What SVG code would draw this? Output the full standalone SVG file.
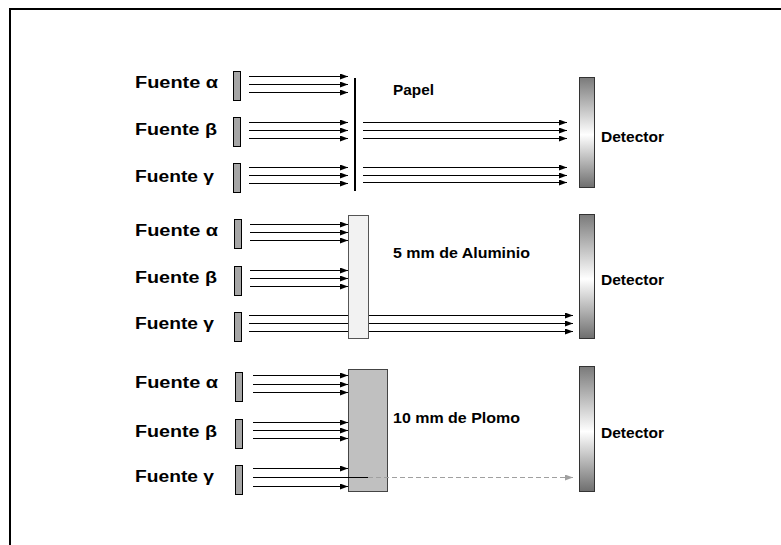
<svg xmlns="http://www.w3.org/2000/svg" width="781" height="545" viewBox="0 0 781 545">
<defs>
<marker id="ah" viewBox="0 0 8 6" refX="8" refY="3" markerWidth="8" markerHeight="6" markerUnits="userSpaceOnUse" orient="auto">
<path d="M0,0 L8,3 L0,6 Z" fill="#000"/>
</marker>
<marker id="ahg" viewBox="0 0 8 6" refX="8" refY="3" markerWidth="8" markerHeight="6" markerUnits="userSpaceOnUse" orient="auto">
<path d="M0,0 L8,3 L0,6 Z" fill="#a0a0a0"/>
</marker>
<linearGradient id="det" x1="0" y1="0" x2="0" y2="1">
<stop offset="0" stop-color="#7a7a7a"/>
<stop offset="0.52" stop-color="#ffffff"/>
<stop offset="1" stop-color="#6e6e6e"/>
</linearGradient>
</defs>
<style>
.lab{font-family:"Liberation Sans",Arial,sans-serif;font-weight:bold;font-size:16px;fill:#000}
.sm{font-family:"Liberation Sans",Arial,sans-serif;font-weight:bold;font-size:14.5px;fill:#000}
.src{fill:#a6a6a6;stroke:#000;stroke-width:1}
.det{fill:url(#det);stroke:#333;stroke-width:1}
.ray{stroke:#000;stroke-width:1;fill:none;marker-end:url(#ah)}
.ln{stroke:#000;stroke-width:1;fill:none}
</style>
<rect width="781" height="545" fill="#fff"/>
<path d="M10,545 V9 H781" fill="none" stroke="#000" stroke-width="2"/>

<g id="sources">
<g id="src-a1"><rect class="src" x="233.5" y="71.5" width="7" height="29"/><text class="lab" x="135" y="88" textLength="83" lengthAdjust="spacingAndGlyphs">Fuente α</text></g>
<g id="src-b1"><rect class="src" x="233.5" y="117.5" width="7" height="29"/><text class="lab" x="135" y="135" textLength="82" lengthAdjust="spacingAndGlyphs">Fuente β</text></g>
<g id="src-g1"><rect class="src" x="233.5" y="163.5" width="7" height="29"/><text class="lab" x="135" y="182" textLength="79" lengthAdjust="spacingAndGlyphs">Fuente γ</text></g>
<g id="src-a2"><rect class="src" x="234.5" y="219.5" width="7" height="29"/><text class="lab" x="135" y="236" textLength="83" lengthAdjust="spacingAndGlyphs">Fuente α</text></g>
<g id="src-b2"><rect class="src" x="234.5" y="266.5" width="7" height="29"/><text class="lab" x="135" y="283" textLength="82" lengthAdjust="spacingAndGlyphs">Fuente β</text></g>
<g id="src-g2"><rect class="src" x="234.5" y="312.5" width="7" height="29"/><text class="lab" x="135" y="329" textLength="79" lengthAdjust="spacingAndGlyphs">Fuente γ</text></g>
<g id="src-a3"><rect class="src" x="235.5" y="372.5" width="7" height="29"/><text class="lab" x="135" y="388" textLength="83" lengthAdjust="spacingAndGlyphs">Fuente α</text></g>
<g id="src-b3"><rect class="src" x="235.5" y="419.5" width="7" height="29"/><text class="lab" x="135" y="437" textLength="82" lengthAdjust="spacingAndGlyphs">Fuente β</text></g>
<g id="src-g3"><rect class="src" x="235.5" y="465.5" width="7" height="29"/><text class="lab" x="135" y="482" textLength="79" lengthAdjust="spacingAndGlyphs">Fuente γ</text></g>
</g>

<g id="connectors">
<path class="ray" d="M249,76.5 H348"/>
<path class="ray" d="M249,84.5 H348"/>
<path class="ray" d="M249,92.5 H348"/>
<path class="ray" d="M249,122.5 H348"/>
<path class="ray" d="M249,130.5 H348"/>
<path class="ray" d="M249,138.5 H348"/>
<path class="ray" d="M249,167.5 H348"/>
<path class="ray" d="M249,175.5 H348"/>
<path class="ray" d="M249,183.5 H348"/>
<path class="ray" d="M363,122.5 H567"/>
<path class="ray" d="M363,130.5 H567"/>
<path class="ray" d="M363,138.5 H567"/>
<path class="ray" d="M363,167.5 H567"/>
<path class="ray" d="M363,175.5 H567"/>
<path class="ray" d="M363,182.5 H567"/>
<path class="ray" d="M250,224.5 H348"/>
<path class="ray" d="M250,232.5 H348"/>
<path class="ray" d="M250,240.5 H348"/>
<path class="ray" d="M250,270.5 H348"/>
<path class="ray" d="M250,278.5 H348"/>
<path class="ray" d="M250,286.5 H348"/>
<path class="ray" d="M249,315.5 H573"/>
<path class="ray" d="M249,323.5 H573"/>
<path class="ray" d="M249,331.5 H573"/>
<path class="ray" d="M253,375.5 H348"/>
<path class="ray" d="M253,384.5 H348"/>
<path class="ray" d="M253,392.5 H348"/>
<path class="ray" d="M253,422.5 H348"/>
<path class="ray" d="M253,430.5 H348"/>
<path class="ray" d="M253,438.5 H348"/>
<path class="ray" d="M253,468.5 H348"/>
<path class="ray" d="M253,486.5 H348"/>
</g>

<g id="papel">
<line x1="355" y1="78" x2="355" y2="191" stroke="#000" stroke-width="2"/>
<text class="sm" x="393" y="95" textLength="41" lengthAdjust="spacingAndGlyphs">Papel</text>
</g>

<g id="aluminio">
<rect x="348.5" y="215.5" width="20" height="123" fill="#f2f2f2" stroke="#555" stroke-width="1"/>
<text class="sm" x="393" y="258" textLength="137" lengthAdjust="spacingAndGlyphs">5 mm de Aluminio</text>
</g>

<g id="plomo">
<rect x="348.5" y="369.5" width="39" height="122" fill="#c0c0c0" stroke="#444" stroke-width="1"/>
<text class="sm" x="393" y="423" textLength="127" lengthAdjust="spacingAndGlyphs">10 mm de Plomo</text>
</g>

<g id="gamma-pass">
<path class="ln" d="M253,477.5 H368"/>
<path d="M368,477.5 H573" stroke="#a0a0a0" stroke-width="1" stroke-dasharray="5,3" fill="none" marker-end="url(#ahg)"/>
</g>

<g id="det1"><rect class="det" x="579.5" y="77.5" width="15" height="110"/><text class="sm" x="601" y="142" textLength="63" lengthAdjust="spacingAndGlyphs">Detector</text></g>
<g id="det2"><rect class="det" x="579.5" y="214.5" width="15" height="124"/><text class="sm" x="601" y="285" textLength="63" lengthAdjust="spacingAndGlyphs">Detector</text></g>
<g id="det3"><rect class="det" x="579.5" y="366.5" width="15" height="125"/><text class="sm" x="601" y="438" textLength="63" lengthAdjust="spacingAndGlyphs">Detector</text></g>
</svg>
